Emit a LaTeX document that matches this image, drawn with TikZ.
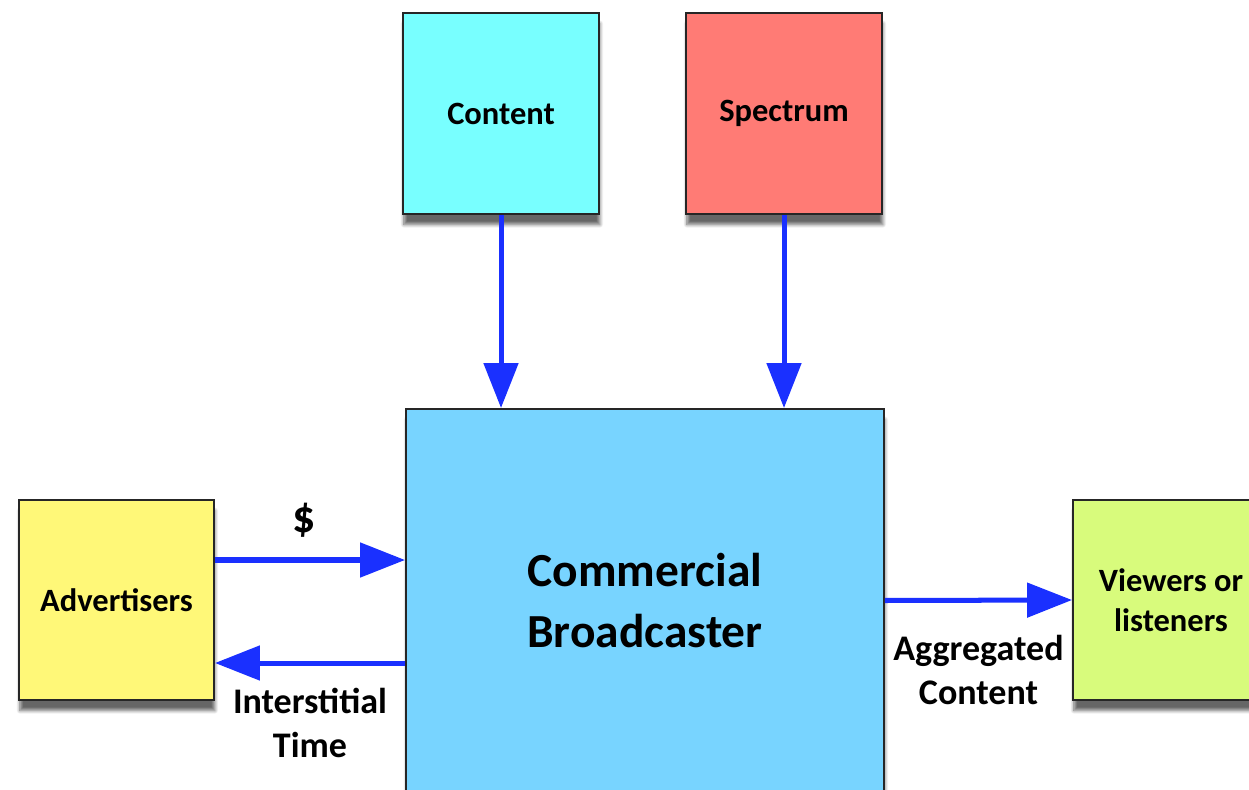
\documentclass[tikz,border=0pt]{standalone}
\usepackage{fontspec}
\setmainfont{Carlito}
\usetikzlibrary{arrows.meta,shadows.blur}
\definecolor{contentcol}{HTML}{78FFFF}
\definecolor{spectrumcol}{HTML}{FF7B75}
\definecolor{broadcol}{HTML}{78D4FF}
\definecolor{advcol}{HTML}{FFF878}
\definecolor{viewcol}{HTML}{D8FB7C}
\definecolor{flowblue}{HTML}{1A30FF}
\tikzset{
  party/.style={draw=black!85,line width=1.1pt,minimum width=3.92cm,minimum height=4.02cm,
    align=center,font=\fontsize{18.5}{23}\selectfont\bfseries,
    blur shadow={shadow xshift=0.5pt,shadow yshift=-6pt,shadow blur steps=8,shadow opacity=60}},
  flowlabel/.style={align=center,inner sep=0pt,font=\fontsize{20.5}{25}\selectfont\bfseries}
}
\begin{document}
\begin{tikzpicture}
\useasboundingbox (0,0) rectangle (24.98,-15.8);
\path (10.02,-2.27) node (content) [party,fill=contentcol] {Content};
\path (15.68,-2.27) node (spectrum) [party,fill=spectrumcol] {Spectrum};
\path (12.9,-12.01) node (broadcaster) [party,fill=broadcol,minimum width=9.56cm,minimum height=7.66cm,
  font=\fontsize{27}{35}\selectfont\bfseries] {Commercial\\Broadcaster};
\path (2.33,-12.0) node (advertisers) [party,fill=advcol,minimum width=3.9cm,minimum height=4cm] {Advertisers};
\path (23.42,-12.0) node (viewers) [party,fill=viewcol,minimum height=4cm] {Viewers or\\listeners};
\begin{scope}[flowblue,line width=2.85pt,-{Triangle[length=0.9cm,width=0.68cm]}]
  \draw (content) -- (content |- broadcaster.north);
  \draw (spectrum) -- (spectrum |- broadcaster.north);
  \draw ([yshift=0.8cm]advertisers.east) -- ([yshift=0.8cm]advertisers.east -| broadcaster.west)
    node [midway,xshift=-0.12cm,above=0.4cm,flowlabel,black,font=\fontsize{26}{30}\selectfont\bfseries] {\$};
  \draw ([yshift=-1.26cm]advertisers.east -| broadcaster.west) -- ([yshift=-1.26cm]advertisers.east)
    node [midway,below=0.45cm,flowlabel,black] {Interstitial\\Time};
  \draw (broadcaster.east) -- (viewers.west)
    node [midway,below=0.65cm,flowlabel,black] {Aggregated\\Content};
\end{scope}
\end{tikzpicture}
\end{document}
